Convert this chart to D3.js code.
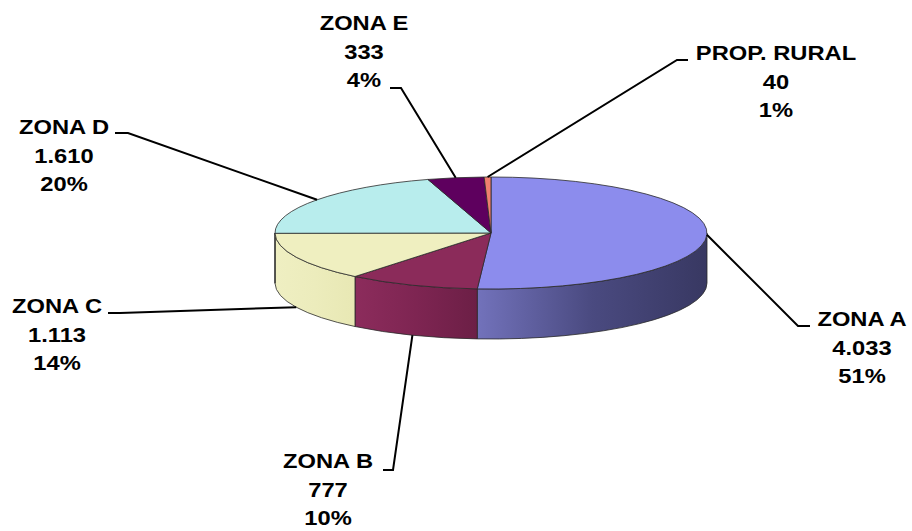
<!DOCTYPE html>
<html>
<head>
<meta charset="utf-8">
<style>
  body { margin: 0; background: #fff; }
  text { font-family: "Liberation Sans", Arial, sans-serif; font-weight: bold; font-size: 21px; fill: #000; }
</style>
</head>
<body>
<svg width="912" height="531"></svg>
<script src="https://cdn.jsdelivr.net/npm/d3@7"></script>
<script>

var zones = ["ZONA A", "ZONA B", "ZONA C", "ZONA D", "ZONA E", "PROP. RURAL"],
    counts = [4033, 777, 1113, 1610, 333, 40],
    countLabels = ["4.033", "777", "1.113", "1.610", "333", "40"],
    pctLabels = ["51%", "10%", "14%", "20%", "4%", "1%"];

var topColors = ["#8c8ced", "#8b2b5a", "#efefc0", "#b8eded", "#5e005e", "#f07f6f"],
    sideColors = [["#7272bb", "#4a4a80", "#383862"],
                  ["#8c2c5c", "#7e2552", "#6c1f46"],
                  ["#efefc2", "#ececbc", "#e8e8b4"],
                  ["#b8eded", "#a8dede", "#98cece"],
                  ["#5e005e", "#500050", "#420042"],
                  ["#f07f6f", "#e07060", "#d06050"]];

// label placement: text centre x, first baseline y, leader elbow x, leader end x, leader y
var labelPos = [
  {x: 862, y: 326, ex: 798, tx: 810, ly: 326},
  {x: 328, y: 468, ex: 393, tx: 383, ly: 470},
  {x: 57,  y: 313, ex: 120, tx: 108, ly: 313},
  {x: 64,  y: 134, ex: 128, tx: 115, ly: 133},
  {x: 364, y: 30,  ex: 401, tx: 390, ly: 88},
  {x: 776, y: 60,  ex: 677, tx: 688, ly: 60}
];

var svg = d3.select("svg"),
    cx = 491, cy = 233, rx = 216, ry = 56, depth = 50;

var pie = d3.pie().sort(null).value(function(d) { return d; })
    .startAngle(0).endAngle(2 * Math.PI);
var arcs = pie(counts);

function pt(a, dy) {
  return [cx + rx * Math.sin(a), cy - ry * Math.cos(a) + (dy || 0)];
}

function topPath(d) {
  var p0 = pt(d.startAngle), p1 = pt(d.endAngle),
      large = d.endAngle - d.startAngle > Math.PI ? 1 : 0;
  return "M" + cx + "," + cy + "L" + p0 + "A" + rx + "," + ry + " 0 " + large + " 1 " + p1 + "Z";
}

function sidePath(d) {
  var s = Math.max(d.startAngle, Math.PI / 2),
      e = Math.min(d.endAngle, 3 * Math.PI / 2);
  if (e <= s) return null;
  var a = pt(s), b = pt(e), c = pt(e, depth), f = pt(s, depth);
  return "M" + a + "A" + rx + "," + ry + " 0 0 1 " + b +
         "L" + c + "A" + rx + "," + ry + " 0 0 0 " + f + "Z";
}

var defs = svg.append("defs");
arcs.forEach(function(d, i) {
  var g = defs.append("linearGradient").attr("id", "side" + i)
      .attr("x1", 0).attr("x2", 1).attr("y1", 0).attr("y2", 0);
  g.selectAll("stop").data(sideColors[i]).enter().append("stop")
      .attr("offset", function(c, j) { return j / 2; })
      .attr("stop-color", function(c) { return c; });
});

var chart = svg.append("g");

chart.selectAll("path.side")
  .data(arcs.filter(function(d) { return sidePath(d); }))
  .enter().append("path")
    .attr("class", "side")
    .attr("d", sidePath)
    .attr("fill", function(d) { return "url(#side" + d.index + ")"; })
    .attr("stroke", "#2a2a2a")
    .attr("stroke-width", 0.8)
    .attr("stroke-linejoin", "round");

chart.selectAll("path.top")
  .data(arcs)
  .enter().append("path")
    .attr("class", "top")
    .attr("d", topPath)
    .attr("fill", function(d, i) { return topColors[i]; })
    .attr("stroke", "#2a2a2a")
    .attr("stroke-width", 0.8)
    .attr("stroke-linejoin", "round");

// leader lines
var leaders = svg.append("g")
    .attr("fill", "none")
    .attr("stroke", "#000")
    .attr("stroke-width", 2);

leaders.selectAll("path")
  .data(arcs)
  .enter().append("path")
    .attr("d", function(d, i) {
      var mid = (d.startAngle + d.endAngle) / 2,
          onBase = mid > Math.PI / 2 + 0.3 && mid < 3 * Math.PI / 2,
          p = pt(mid, onBase ? depth : 0),
          L = labelPos[i];
      return d3.line()([p, [L.ex, L.ly], [L.tx, L.ly]]);
    });

// labels
var labels = svg.append("g").selectAll("g")
  .data(arcs)
  .enter().append("g")
    .attr("transform", function(d, i) {
      return "translate(" + labelPos[i].x + "," + labelPos[i].y + ") scale(1.13,1)";
    });

labels.append("text")
    .attr("text-anchor", "middle")
    .selectAll("tspan")
    .data(function(d, i) { return [zones[i], countLabels[i], pctLabels[i]]; })
    .enter().append("tspan")
      .attr("x", 0)
      .attr("y", function(t, j) { return j * 28.7; })
      .text(function(t) { return t; });

</script>
</body>
</html>
